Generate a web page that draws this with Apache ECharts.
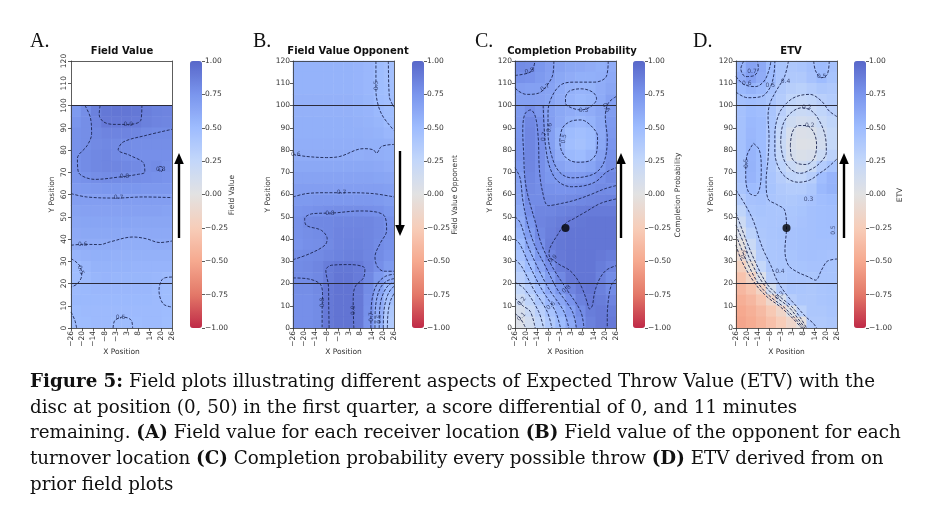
<!DOCTYPE html>
<html><head><meta charset="utf-8">
<script src="https://cdn.jsdelivr.net/npm/echarts/dist/echarts.min.js"></script>
<style>html,body{margin:0;padding:0;background:#fff}#c{width:934px;height:519px}</style>
</head><body><div id="c"></div><script>
// ---------------- DATA ----------------
const xTickLabels = ['\u221226','\u221220','\u221214','\u22128','\u22123','3','8','14','20','26'];
const xCellCenters = [-23.4,-18.2,-13,-7.8,-2.6,2.6,7.8,13,18.2,23.4];
const yCellCenters = [2.5,7.5,12.5,17.5,22.5,27.5,32.5,37.5,42.5,47.5,52.5,57.5,62.5,67.5,72.5,77.5,82.5,87.5,92.5,97.5,102.5,107.5,112.5,117.5];
const zoneLines = [20, 100];
const discPos = [[0, 45]];
const colorTicks = [-1, -0.75, -0.5, -0.25, 0, 0.25, 0.5, 0.75, 1];

// rows listed from top (y=117.5) to bottom (y=2.5)
const fieldValue = [
 [null,null,null,null,null,null,null,null,null,null],
 [null,null,null,null,null,null,null,null,null,null],
 [null,null,null,null,null,null,null,null,null,null],
 [null,null,null,null,null,null,null,null,null,null],
 [0.72,0.79,0.86,0.91,0.92,0.92,0.91,0.87,0.85,0.84],
 [0.75,0.79,0.84,0.90,0.90,0.90,0.89,0.86,0.84,0.83],
 [0.77,0.79,0.82,0.84,0.84,0.84,0.83,0.81,0.80,0.80],
 [0.77,0.79,0.81,0.82,0.81,0.80,0.79,0.79,0.79,0.79],
 [0.77,0.80,0.82,0.83,0.81,0.79,0.78,0.78,0.78,0.78],
 [0.77,0.80,0.82,0.83,0.83,0.82,0.81,0.79,0.80,0.77],
 [0.75,0.77,0.79,0.80,0.80,0.79,0.79,0.78,0.77,0.76],
 [0.71,0.72,0.73,0.74,0.74,0.74,0.74,0.73,0.73,0.73],
 [0.69,0.69,0.69,0.69,0.69,0.69,0.69,0.69,0.69,0.69],
 [0.66,0.67,0.67,0.67,0.67,0.67,0.67,0.67,0.67,0.66],
 [0.64,0.65,0.65,0.65,0.65,0.65,0.64,0.64,0.64,0.64],
 [0.62,0.63,0.63,0.63,0.63,0.62,0.62,0.62,0.62,0.62],
 [0.60,0.60,0.60,0.60,0.60,0.59,0.59,0.59,0.60,0.60],
 [0.55,0.57,0.58,0.58,0.57,0.57,0.57,0.57,0.57,0.57],
 [0.50,0.53,0.56,0.56,0.56,0.56,0.55,0.55,0.55,0.55],
 [0.49,0.51,0.54,0.55,0.54,0.54,0.54,0.54,0.53,0.51],
 [0.51,0.52,0.53,0.53,0.53,0.53,0.53,0.53,0.51,0.49],
 [0.52,0.52,0.52,0.52,0.52,0.52,0.52,0.52,0.51,0.49],
 [0.50,0.51,0.51,0.51,0.51,0.51,0.51,0.51,0.51,0.50],
 [0.49,0.50,0.51,0.51,0.49,0.49,0.50,0.51,0.51,0.49]
];
const fieldValueOpponent = [
 [0.56,0.56,0.56,0.56,0.56,0.56,0.55,0.53,0.49,0.46],
 [0.56,0.56,0.56,0.56,0.56,0.56,0.55,0.53,0.49,0.46],
 [0.56,0.56,0.56,0.56,0.56,0.56,0.55,0.53,0.49,0.47],
 [0.57,0.57,0.57,0.57,0.57,0.57,0.56,0.54,0.50,0.48],
 [0.57,0.57,0.57,0.57,0.57,0.57,0.56,0.55,0.52,0.49],
 [0.58,0.58,0.58,0.58,0.58,0.58,0.57,0.56,0.54,0.50],
 [0.58,0.58,0.58,0.58,0.58,0.58,0.58,0.57,0.56,0.53],
 [0.59,0.59,0.59,0.59,0.59,0.59,0.59,0.58,0.58,0.57],
 [0.60,0.60,0.60,0.60,0.60,0.60,0.59,0.60,0.59,0.58],
 [0.63,0.63,0.63,0.63,0.63,0.63,0.63,0.63,0.62,0.60],
 [0.66,0.66,0.66,0.66,0.66,0.66,0.66,0.66,0.65,0.64],
 [0.69,0.69,0.69,0.69,0.69,0.69,0.69,0.69,0.69,0.68],
 [0.72,0.72,0.73,0.73,0.73,0.73,0.73,0.73,0.72,0.70],
 [0.75,0.76,0.77,0.78,0.79,0.79,0.79,0.78,0.77,0.74],
 [0.77,0.81,0.82,0.82,0.83,0.83,0.83,0.83,0.81,0.77],
 [0.77,0.79,0.80,0.82,0.84,0.84,0.84,0.83,0.81,0.78],
 [0.76,0.78,0.79,0.81,0.84,0.85,0.85,0.83,0.80,0.77],
 [0.79,0.80,0.81,0.83,0.85,0.86,0.86,0.83,0.80,0.76],
 [0.80,0.81,0.83,0.88,0.91,0.91,0.89,0.84,0.78,0.72],
 [0.80,0.80,0.82,0.88,0.92,0.92,0.89,0.82,0.72,0.62],
 [0.79,0.79,0.81,0.90,0.93,0.93,0.90,0.80,0.66,0.52],
 [0.78,0.78,0.80,0.90,0.93,0.93,0.90,0.78,0.62,0.45],
 [0.78,0.78,0.80,0.90,0.93,0.93,0.90,0.77,0.60,0.40],
 [0.78,0.78,0.80,0.90,0.93,0.93,0.90,0.76,0.58,0.38]
];
const completionProbability = [
 [0.80,0.79,0.74,0.69,0.66,0.63,0.62,0.60,0.58,0.60],
 [0.77,0.76,0.72,0.68,0.63,0.60,0.58,0.58,0.59,0.62],
 [0.69,0.68,0.68,0.66,0.61,0.57,0.55,0.56,0.60,0.64],
 [0.68,0.68,0.67,0.65,0.60,0.55,0.52,0.54,0.61,0.68],
 [0.72,0.78,0.73,0.68,0.63,0.60,0.58,0.60,0.64,0.70],
 [0.73,0.82,0.77,0.69,0.62,0.56,0.53,0.56,0.63,0.72],
 [0.74,0.83,0.78,0.68,0.58,0.50,0.47,0.50,0.62,0.73],
 [0.75,0.83,0.78,0.68,0.57,0.48,0.45,0.49,0.63,0.75],
 [0.76,0.83,0.78,0.70,0.60,0.52,0.50,0.55,0.67,0.77],
 [0.74,0.83,0.78,0.72,0.66,0.62,0.62,0.65,0.72,0.79],
 [0.70,0.82,0.78,0.74,0.72,0.71,0.71,0.74,0.78,0.82],
 [0.68,0.81,0.79,0.77,0.76,0.76,0.77,0.79,0.81,0.80],
 [0.66,0.80,0.80,0.80,0.80,0.81,0.82,0.83,0.84,0.85],
 [0.63,0.78,0.83,0.83,0.85,0.86,0.88,0.89,0.89,0.89],
 [0.60,0.74,0.84,0.86,0.88,0.90,0.91,0.92,0.92,0.92],
 [0.56,0.70,0.82,0.87,0.90,0.92,0.92,0.92,0.92,0.92],
 [0.50,0.64,0.78,0.88,0.91,0.92,0.92,0.92,0.92,0.92],
 [0.44,0.57,0.72,0.84,0.90,0.92,0.92,0.92,0.90,0.88],
 [0.38,0.50,0.64,0.78,0.88,0.92,0.92,0.92,0.88,0.84],
 [0.32,0.43,0.56,0.70,0.82,0.90,0.92,0.92,0.86,0.80],
 [0.25,0.36,0.48,0.62,0.74,0.84,0.90,0.92,0.86,0.80],
 [0.18,0.28,0.40,0.53,0.64,0.76,0.86,0.90,0.88,0.84],
 [0.10,0.20,0.32,0.44,0.56,0.68,0.80,0.88,0.90,0.88],
 [0.05,0.14,0.26,0.38,0.50,0.62,0.76,0.86,0.90,0.90]
];
const etv = [
 [0.55,0.66,0.62,0.50,0.43,0.40,0.42,0.46,0.50,0.45],
 [0.60,0.68,0.60,0.50,0.42,0.38,0.38,0.44,0.50,0.43],
 [0.52,0.56,0.52,0.45,0.38,0.33,0.31,0.35,0.40,0.38],
 [0.46,0.48,0.46,0.42,0.35,0.27,0.24,0.27,0.32,0.35],
 [0.45,0.50,0.48,0.42,0.32,0.23,0.20,0.22,0.27,0.32],
 [0.45,0.52,0.50,0.41,0.28,0.17,0.13,0.15,0.21,0.27],
 [0.45,0.53,0.50,0.40,0.24,0.10,0.06,0.07,0.15,0.23],
 [0.45,0.54,0.50,0.38,0.21,0.08,0.04,0.05,0.13,0.23],
 [0.45,0.55,0.50,0.38,0.24,0.11,0.07,0.09,0.19,0.30],
 [0.45,0.56,0.50,0.40,0.29,0.20,0.15,0.21,0.35,0.43],
 [0.44,0.55,0.49,0.42,0.34,0.28,0.26,0.33,0.48,0.55],
 [0.42,0.50,0.47,0.43,0.38,0.35,0.35,0.40,0.52,0.56],
 [0.36,0.44,0.45,0.42,0.40,0.39,0.41,0.44,0.48,0.50],
 [0.28,0.41,0.43,0.42,0.41,0.41,0.43,0.46,0.47,0.48],
 [0.18,0.37,0.41,0.42,0.42,0.42,0.44,0.46,0.47,0.48],
 [0.08,0.30,0.40,0.42,0.43,0.44,0.45,0.46,0.47,0.47],
 [-0.02,0.20,0.38,0.41,0.42,0.44,0.45,0.46,0.46,0.46],
 [-0.12,0.10,0.34,0.41,0.42,0.43,0.45,0.46,0.45,0.44],
 [-0.22,-0.04,0.24,0.40,0.41,0.42,0.43,0.44,0.44,0.43],
 [-0.32,-0.18,0.06,0.34,0.40,0.42,0.42,0.41,0.43,0.43],
 [-0.40,-0.32,-0.18,0.12,0.36,0.42,0.41,0.40,0.42,0.43],
 [-0.46,-0.40,-0.30,-0.14,0.10,0.34,0.40,0.40,0.42,0.43],
 [-0.50,-0.45,-0.38,-0.28,-0.16,0.04,0.30,0.40,0.40,0.42],
 [-0.52,-0.48,-0.42,-0.34,-0.25,-0.14,-0.02,0.38,0.38,0.40]
];

// contour lines [x, y]
const contoursA = [
 [[-11,100],[-11.5,96],[-9,92.5],[-3,91.5],[4,91.5],[10,93.5],[10.5,100]],
 [[-18.8,100],[-16,94.5],[-15.4,87.3],[-17.6,82.1],[-22.7,76.1],[-22.2,70.1],[-13.7,66.8],[-0.8,67.9],[8,69],[12,70.1],[11.5,73.9],[4.3,77.6],[-1.7,80.1],[0.9,83.6],[12.8,86.6],[26,89.3]],
 [[19.6,72.6],[20.9,72.3],[21.1,70.9],[20.1,70.2],[19.2,71.2],[19.6,72.6]],
 [[-26,60.4],[-18,58.9],[-2.6,58.4],[11,58.9],[26,58.6]],
 [[-26,37.2],[-19.7,37.6],[-11,37.5],[-6,38.7],[6,40.9],[12.8,40.1],[19.7,38.4],[26,39.1]],
 [[-26,31.2],[-21.7,28.2],[-20.5,23.7],[-22.7,19.9],[-26,18.4]],
 [[26,22.9],[21.4,22.2],[19.3,16.9],[21.4,10.9],[26,9.4]],
 [[-4.3,0],[-3.4,3.4],[0.9,4.9],[5.1,3.4],[5.7,0]],
 [[-26,7.2],[-24,3.4],[-23.1,0]]
];
const contoursB = [
 [[-26,78],[-19.1,77.1],[-8.8,76.6],[-1.9,77.1],[10.2,80.6],[15.3,80.1],[17,78.6],[19.6,81.6],[26,82.5]],
 [[-26,58.9],[-19.1,60.4],[-8.8,60.8],[1.6,60.8],[15.3,60.4],[26,58.9]],
 [[-26,30.7],[-17.4,33.4],[-9.6,37.2],[-8.4,40.1],[-11.4,43.9],[-19.1,46.1],[-20,49.1],[-15.7,51.4],[-5.3,51.7],[8.4,52.6],[17,52.1],[21.4,49.9],[22.2,43.9],[18.8,37.9],[16.2,31.9],[17.5,27.5],[21,25.5],[26,25.5]],
 [[-26,22.5],[-19.1,22.2],[-12.2,19.9],[-10.8,15.4],[-11,8],[-11,0]],
 [[-7.4,0],[-7.6,10],[-7.7,18.4],[-9.1,25.9],[-6.2,28.2],[3.3,28.5],[11,26.7],[10.5,22.9],[5.9,18.4],[5,12.4],[5.3,0]],
 [[14.1,0],[14.2,8],[15.2,15],[17.5,20],[21.5,23.2],[26,24.2]],
 [[16.2,0],[16.3,7],[17.2,13.5],[19.3,18.5],[22.5,21.2],[26,22.2]],
 [[18.4,0],[18.5,6],[19.2,12],[21,16.5],[23.5,19.5],[26,20.5]],
 [[20.5,0],[20.6,5],[21.2,10],[22.6,14.5],[24.5,17.5],[26,18.7]],
 [[22.6,0],[22.7,4],[23.2,8.5],[24.3,12.5],[26,15.5]],
 [[16.7,120],[16.7,106.8],[17.9,100],[20.5,94.8],[26,88.8]],
 [[23.1,120],[23.6,104],[26,99.3]]
];
const contoursC = [
 [[-3,84],[-1.5,90],[3,93],[8,93.5],[13,91],[16.5,86],[16,79],[12,75],[6,74.5],[1,76],[-2,79.5],[-3,84]],
 [[0,104],[2,106.5],[8,107.5],[14,106],[16,103],[13,99.5],[8,98],[3,99],[0,101],[0,104]],
 [[22,120],[21,113],[15,110.5],[5,110.5],[-2,109.5],[-7,104],[-9,97],[-9,88],[-7,77],[-3,70],[3,67.5],[10,68],[16,70],[20,75],[21.5,85],[20.5,95],[22,101],[26,104]],
 [[-6,120],[-6.5,114],[-10,108.5],[-14,105.5],[-20,105],[-24.3,106.5],[-26,108]],
 [[-11.5,100],[-11,90],[-10,80],[-8,72],[-4,66],[3,63.5],[10,64],[16,66],[21,70],[26,72]],
 [[26,64],[20,62.5],[13,60],[5,57.5],[-2,56],[-8.8,55],[-12,62],[-13.5,72],[-14,85],[-15.5,95],[-18,98],[-21,96],[-22,88],[-21.5,78],[-21,68],[-19.5,60],[-15.5,47.5],[-12.3,37.5],[-6.8,27.5],[0.5,17.5],[7.8,7.5],[9.5,0]],
 [[26,58],[18,56],[10,52],[4,49],[0,47],[-4,42],[-8,36],[-8.5,33],[-4,29],[2,26],[6,22],[9,17],[11,12],[12.5,8.5],[13.8,10],[15,16],[17.5,22],[21,26],[26,28]],
 [[-26,72],[-23.4,67.5],[-22,57.5],[-19.7,47.5],[-16,37.5],[-10.2,27.5],[-4.3,17.5],[3.5,7.5],[5.6,0]],
 [[-26,50],[-23.4,47.5],[-19.6,37.5],[-14.5,27.5],[-8.5,17.5],[-0.9,7.5],[1.7,0]],
 [[-26,40],[-23.4,37.5],[-18.2,27.5],[-12.3,17.5],[-5.2,7.5],[-2.6,0]],
 [[-26,31],[-22.5,27.5],[-16.5,17.5],[-9.5,7.5],[-7,0]],
 [[-26,20.5],[-21.1,17.5],[-13.9,7.5],[-11.3,0]],
 [[-26,13.5],[-22,10],[-18.2,7.5],[-15.6,0]],
 [[-26,6.5],[-23.4,4.5],[-20.5,0]],
 [[-26,113.5],[-19.5,114.5],[-17,116],[-15.7,120]],
 [[26,22],[23.5,19],[22,12],[21.5,5],[21.5,0]]
];
const contoursD = [
 [[2,82],[3,88],[6,91],[10,91],[14,88],[15.5,82],[14,76],[10,73.5],[5.5,74],[2.5,77],[2,82]],
 [[-3,83],[-2,91],[2,96.5],[8,99],[13,97.5],[17,93],[20,86],[20.5,79],[17,74],[12,71],[7,69.5],[2,71.5],[-1.5,76],[-3,83]],
 [[26,95],[22,97.5],[18,102],[12,105],[5,104],[0,101],[-4,96],[-6,87],[-6,79],[-4,72],[0,67.5],[6,65.5],[12,66.5],[17,69.5],[21,72],[26,76]],
 [[1,120],[-1,113],[-5,107],[-8.5,101],[-9.5,95],[-9,86],[-9.5,76],[-10.5,66],[-9.5,58],[-5,55.5],[-1,53],[0,45],[-0.8,35],[0.9,28.3],[5.3,25.3],[11.2,23],[15,21.5],[18,26],[21,30],[26,31]],
 [[-17,83],[-14,80],[-13,72],[-13.5,64],[-16,59.5],[-19.5,61],[-21,68],[-20.5,77],[-17,83]],
 [[-22,120],[-23.5,116.5],[-21,113],[-16.5,113.5],[-14.5,117],[-15,120]],
 [[-26,113],[-22,109.5],[-16,108.5],[-11.5,111],[-9,116],[-8,120]],
 [[-26,106],[-20,103.5],[-13,104],[-8.5,108],[-6.5,114],[-6,120]],
 [[14,120],[15,115.5],[18,112.5],[21,114],[22,120]],
 [[-26,37.3],[-23,30],[-16.2,20],[-10,14],[-3.3,9.6],[3,4.5],[7.8,0]],
 [[-26,41.8],[-20.5,30],[-14.5,20],[-8.5,14.2],[-1.7,9.6],[4,4.7],[8.6,0]],
 [[-26,46.3],[-22,38],[-18.4,30],[-12,20],[-6,14.3],[1,9.6],[5.5,4.7],[9.5,0]],
 [[-26,51.7],[-21,40],[-16.2,30],[-10.2,20],[-4,14.5],[2.7,9.6],[7,4.8],[10.3,0]],
 [[-26,62],[-21,55],[-17,48],[-14,40],[-11.9,35],[-8,28],[-5,21.6],[0,15],[5.3,9.6],[10,5],[13.8,2.1],[15.5,0]]
];
// contour labels [x, y, text, rotation]
const labelsA = [[3.5,91.6,'0.9',0],[1.5,68.2,'0.8',0],[-1.5,58.5,'0.7',0],[-20,37.5,'0.6',0],[-21,26,'0.5',-70],[-0.5,4.8,'0.5',0],[20.2,71.3,'0.8',0]];
const labelsB = [[-1,60.8,'0.7',0],[-7,51.7,'0.8',0],[16.8,109,'0.5',90],[-10.6,11.5,'0.8',90],[5.1,8,'0.9',90],[-24.6,77.8,'0.6',0],[14.2,5,'0.7',90],[18.5,4,'0.5',90]];
const labelsC = [[9.3,97.8,'0.5',0],[-0.8,85,'0.5',80],[-8.2,90,'0.6',80],[-11,86,'0.7',80],[-18.5,115.5,'0.8',20],[-10.5,108,'0.7',30],[-6.5,31,'0.9',40],[0.5,17.5,'0.8',40],[-7.5,10,'0.6',40],[-22.5,12,'0.2',55],[-22.7,5,'0.1',45],[20.8,99,'0.6',-60]];
const labelsD = [[-17.8,115.1,'0.7',0],[-20.4,110,'0.6',0],[-8.4,109,'0.5',0],[-0.5,111,'0.4',0],[18.1,113,'0.5',0],[10.4,99,'0.2',0],[12,91,'0.2',0],[11.3,57.8,'0.3',0],[-3.4,25.3,'0.4',0],[-3.6,14.5,'0.3',40],[-21.5,33,'0.1',60],[-20.4,74,'0.5',90],[24.1,44,'0.5',90]];

// caption
const captionLines = [
 '{b|Figure 5:} Field plots illustrating different aspects of Expected Throw Value (ETV) with the',
 'disc at position (0, 50) in the first quarter, a score differential of 0, and 11 minutes',
 'remaining. {b|(A)} Field value for each receiver location {b|(B)} Field value of the opponent for each',
 'turnover location {b|(C)} Completion probability every possible throw {b|(D)} ETV derived from on',
 'prior field plots'
];
const panelTitles = ['Field Value','Field Value Opponent','Completion Probability','ETV'];
const colorbarTitles = ['Field Value','Field Value Opponent','Completion Probability','ETV'];
const panelLetters = ['A.','B.','C.','D.'];

// ---------------- LAYOUT / STYLE ----------------
const fields = [fieldValue, fieldValueOpponent, completionProbability, etv];
const contours = [contoursA, contoursB, contoursC, contoursD];
const labels = [labelsA, labelsB, labelsC, labelsD];
const showDisc = [false, false, true, true];
const arrowUp = [true, false, true, true];
const gridLeft = [71, 293, 515, 736], gridTop = 61, gridW = 101, gridH = 267;
const cbLeft = [190, 412, 633, 854], cbW = 12;
const titleX = [122, 348, 572, 791];
const cbTitleX = [232, 455, 678, 900];
const letterX = [30, 253, 475, 693];
const arrowX = [179, 400, 621, 844];
const FS = "'DejaVu Sans', sans-serif";
const SERIF = "'DejaVu Serif', 'Liberation Serif', serif";
const LSERIF = "'Liberation Serif', serif";
const axisC = '#333';
const lineC = '#1b2550';
const cmap = ['#bf2a47','#e37868','#f6a98f','#f7cdb9','#e2e2e2','#c3d7fa','#9ebcfe','#7a95ed','#5867c9'];
const minus = s => String(s).replace('-', '\u2212');

const grid = [], xAxis = [], yAxis = [], series = [], visualMap = [], graphic = [];
for (let p = 0; p < 4; p++) {
  grid.push({left: gridLeft[p], top: gridTop, width: gridW, height: gridH});
  const al = {show: true, onZero: false, lineStyle: {color: axisC, width: 0.8}};
  xAxis.push({type: 'category', gridIndex: p, data: xCellCenters, position: 'top', axisLine: al,
    axisTick: {show: false}, axisLabel: {show: false}, splitLine: {show: false}, z: 5});
  xAxis.push({type: 'category', gridIndex: p, data: xTickLabels, boundaryGap: false, position: 'bottom',
    axisLine: al, axisTick: {show: true, length: 3, lineStyle: {color: axisC, width: 0.8}},
    axisLabel: {rotate: 90, fontSize: 7.5, color: '#333', margin: 3, fontFamily: FS, interval: 0},
    splitLine: {show: false}, name: 'X Position', nameLocation: 'middle', nameGap: 20, nameMoveOverlap: false,
    nameTextStyle: {fontSize: 7.5, color: '#333', fontFamily: FS}, z: 5});
  xAxis.push({type: 'value', gridIndex: p, min: -26, max: 26, show: false, position: 'bottom'});
  yAxis.push({type: 'category', gridIndex: p, data: yCellCenters, position: 'right', axisLine: al,
    axisTick: {show: false}, axisLabel: {show: false}, splitLine: {show: false}, z: 5});
  yAxis.push({type: 'value', gridIndex: p, min: 0, max: 120, interval: 10, position: 'left', axisLine: al,
    axisTick: {show: true, length: 3, lineStyle: {color: axisC, width: 0.8}},
    axisLabel: {fontSize: 7.5, color: '#333', margin: 3, fontFamily: FS, rotate: p === 0 ? 90 : 0},
    splitLine: {show: false}, name: 'Y Position', nameLocation: 'middle', nameGap: p === 0 ? 15 : 21,
    nameTextStyle: {fontSize: 7.5, color: '#333', fontFamily: FS}, z: 5});

  const hm = [];
  fields[p].forEach((row, r) => row.forEach((v, c) => {
    if (v !== null) hm.push([c, yCellCenters.length - 1 - r, v]);
  }));
  series.push({type: 'heatmap', xAxisIndex: 3 * p, yAxisIndex: 2 * p, data: hm, silent: true, z: 1});
  visualMap.push({type: 'continuous', seriesIndex: series.length - 1, min: -1, max: 1,
    left: cbLeft[p], top: gridTop, itemWidth: cbW, itemHeight: gridH, calculable: false,
    padding: 0, hoverLink: false, inRange: {color: cmap}, textStyle: {fontSize: 1, color: 'rgba(0,0,0,0)'}});

  contours[p].forEach(line => series.push({type: 'line', xAxisIndex: 3 * p + 2, yAxisIndex: 2 * p + 1,
    data: line, smooth: 0.35, symbol: 'none', silent: true, z: 3,
    lineStyle: {color: lineC, width: 0.9, type: [3, 1.6]}}));

  series.push({type: 'line', xAxisIndex: 3 * p + 2, yAxisIndex: 2 * p + 1, data: [], silent: true,
    markLine: {silent: true, symbol: 'none', label: {show: false}, animation: false,
      lineStyle: {color: '#2b2b3b', width: 1, type: 'solid'},
      data: zoneLines.map(v => ({yAxis: v}))}});

  series.push({type: 'scatter', xAxisIndex: 3 * p + 2, yAxisIndex: 2 * p + 1, symbolSize: 1, silent: true, z: 4,
    itemStyle: {color: 'rgba(0,0,0,0)'},
    data: labels[p].map(l => ({value: [l[0], l[1]], name: l[2], label: {rotate: l[3]}})),
    label: {show: true, position: 'inside', formatter: d => d.name, fontSize: 6, color: lineC, fontFamily: FS}});

  if (showDisc[p]) series.push({type: 'scatter', xAxisIndex: 3 * p + 2, yAxisIndex: 2 * p + 1,
    data: discPos, symbolSize: 8, itemStyle: {color: '#000'}, silent: true, z: 6});

  graphic.push({type: 'text', x: titleX[p], y: 51, style: {text: panelTitles[p], fontFamily: FS,
    fontWeight: 'bold', fontSize: 10, fill: '#111', textAlign: 'center', textVerticalAlign: 'middle', verticalAlign: 'middle'}});
  graphic.push({type: 'text', x: letterX[p], y: 42, style: {text: panelLetters[p], fontFamily: LSERIF,
    fontSize: 20, fill: '#111', textAlign: 'left', textVerticalAlign: 'middle', verticalAlign: 'middle'}});
  graphic.push({type: 'text', x: cbTitleX[p], y: 195, rotation: Math.PI / 2, style: {text: colorbarTitles[p],
    fontFamily: FS, fontSize: 7.5, fill: '#333', textAlign: 'center', textVerticalAlign: 'middle', verticalAlign: 'middle'}});
  const tip = arrowUp[p] ? 153 : 236, tail = arrowUp[p] ? 238 : 151, dir = arrowUp[p] ? 1 : -1;
  graphic.push({type: 'line', shape: {x1: arrowX[p], y1: tail, x2: arrowX[p], y2: tip + dir * 8},
    style: {stroke: '#000', lineWidth: 2.4}});
  graphic.push({type: 'polygon', shape: {points: [[arrowX[p], tip], [arrowX[p] - 4.8, tip + dir * 11], [arrowX[p] + 4.8, tip + dir * 11]]},
    style: {fill: '#000'}});
}
for (let p = 0; p < 4; p++) {
  grid.push({left: cbLeft[p], top: gridTop, width: cbW, height: gridH});
  xAxis.push({type: 'value', gridIndex: 4 + p, min: 0, max: 1, show: false});
  yAxis.push({type: 'value', gridIndex: 4 + p, min: colorTicks[0], max: colorTicks[colorTicks.length - 1], interval: 0.25,
    position: 'right', axisLine: {show: false, onZero: false},
    axisTick: {show: true, length: 3, lineStyle: {color: axisC, width: 0.8}},
    axisLabel: {fontSize: 7.5, color: '#333', margin: 3, fontFamily: FS, formatter: v => minus(v.toFixed(2))},
    splitLine: {show: false}});
  series.push({type: 'scatter', xAxisIndex: 12 + p, yAxisIndex: 8 + p, data: [], silent: true});
}
captionLines.forEach((t, i) => graphic.push({type: 'text', x: 30, y: 382 + i * 25.8, style: {
  text: t, fontFamily: SERIF, fontSize: 18.3, fill: '#111', textVerticalAlign: 'middle', verticalAlign: 'middle',
  rich: {b: {fontFamily: SERIF, fontSize: 18.3, fontWeight: 'bold', fill: '#111'}}}}));

const chart = echarts.init(document.getElementById('c'));
chart.setOption({animation: false, backgroundColor: '#fff', grid, xAxis, yAxis, visualMap, series, graphic});
</script></body></html>
